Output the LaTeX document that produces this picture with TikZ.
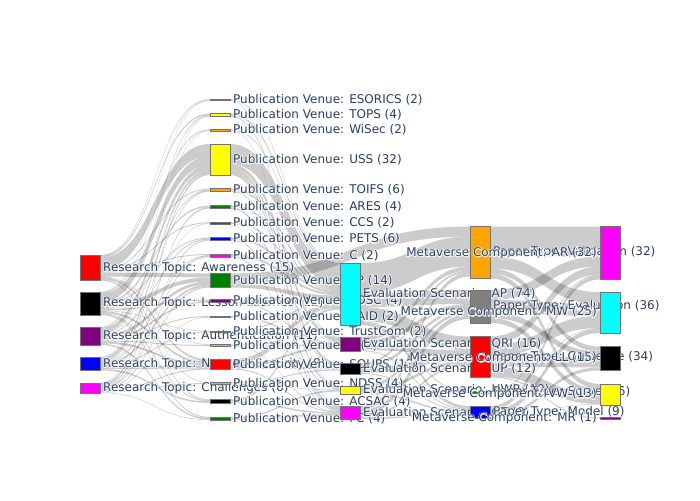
\documentclass[tikz,border=0pt]{standalone}
\usepackage{fontspec}
\setmainfont{DejaVu Sans}
\newfontfamily\halofont[FakeBold=14]{DejaVu Sans}
\usetikzlibrary{calc}
\pgfdeclarelayer{bg}
\pgfsetlayers{bg,main}
\definecolor{txt}{RGB}{42,63,95}
\definecolor{mygreen}{RGB}{0,128,0}
\definecolor{mypurple}{RGB}{128,0,128}
\definecolor{myorange}{RGB}{255,165,0}
\definecolor{mygray}{RGB}{128,128,128}
\definecolor{mycyan}{RGB}{0,255,255}
\definecolor{mymagenta}{RGB}{255,0,255}
\definecolor{myyellow}{RGB}{255,255,0}
\definecolor{myred}{RGB}{255,0,0}
\definecolor{myblue}{RGB}{0,0,255}
\tikzset{
  sk/.style={draw=black!55, line width=0.5pt, inner sep=0pt, outer sep=0pt, minimum width=20pt, anchor=north west},
  lbr/.style={anchor=west, text=txt, inner sep=0pt, font=\fontsize{12}{14}\selectfont},
  lbl/.style={anchor=east, text=txt, inner sep=0pt, font=\fontsize{12}{14}\selectfont},
  halo/.style={text=white, text opacity=0.85, font=\halofont\fontsize{12}{14}\selectfont},
  linkfill/.style={fill=black, fill opacity=0.2}
}
\newcommand\snoder[6]{%
  \node[sk, fill=#5, minimum height=#4pt] (#1) at (#2,#3) {};
  \node[lbr, halo] (#1-h) at ([xshift=3pt]#1.east) {#6};
  \node[lbr] (#1-t) at ([xshift=3pt]#1.east) {#6};
  \expandafter\xdef\csname so@#1\endcsname{0}%
  \expandafter\xdef\csname si@#1\endcsname{0}%
}
\newcommand\snodel[6]{%
  \node[sk, fill=#5, minimum height=#4pt] (#1) at (#2,#3) {};
  \node[lbl, halo] (#1-h) at ([xshift=-3pt]#1.west) {#6};
  \node[lbl] (#1-t) at ([xshift=-3pt]#1.west) {#6};
  \expandafter\xdef\csname so@#1\endcsname{0}%
  \expandafter\xdef\csname si@#1\endcsname{0}%
}
\newcommand\lnk[3]{%
  \pgfmathsetmacro\lso{\csname so@#1\endcsname}%
  \pgfmathsetmacro\lsi{\csname si@#2\endcsname}%
  \fill[linkfill] let \p1=(#1.north east), \p2=(#2.north west), \n1={(\x1+\x2)/2} in
    (\x1,\y1-\lso pt) .. controls (\n1,\y1-\lso pt) and (\n1,\y2-\lsi pt) .. (\x2,\y2-\lsi pt)
    -- (\x2,\y2-\lsi pt-#3pt) .. controls (\n1,\y2-\lsi pt-#3pt) and (\n1,\y1-\lso pt-#3pt) .. (\x1,\y1-\lso pt-#3pt) -- cycle;
  \pgfmathsetmacro\tmpa{\lso+#3}\expandafter\xdef\csname so@#1\endcsname{\tmpa}%
  \pgfmathsetmacro\tmpb{\lsi+#3}\expandafter\xdef\csname si@#2\endcsname{\tmpb}%
}
\newcommand\lnks[2]{\foreach \tg/\w in {#2}{\lnk{#1}{\tg}{\w}}}
\begin{document}
\begin{tikzpicture}[x=1pt,y=-1pt]
\useasboundingbox (0,0) rectangle (700,500);
\begin{pgfonlayer}{bg}
\fill[white] (0,0) rectangle (700,500);
\end{pgfonlayer}
% column 0
\snoder{aw}{80}{255}{25.5}{myred}{Research Topic: Awareness (15)}
\snoder{le}{80}{292}{23}{black}{Research Topic: Lesson Learned (12)}
\snoder{au}{80}{327}{18}{mypurple}{Research Topic: Authentication (11)}
\snoder{nw}{80}{357}{13.5}{myblue}{Research Topic: Network Security (8)}
\snoder{ch}{80}{383}{10}{mymagenta}{Research Topic: Challenges (6)}
% column 1
\snoder{esorics}{210}{99.25}{1.5}{mygray}{Publication Venue: ESORICS (2)}
\snoder{tops}{210}{113.5}{3}{myyellow}{Publication Venue: TOPS (4)}
\snoder{wisec}{210}{129.25}{1.5}{myorange}{Publication Venue: WiSec (2)}
\snoder{uss}{210}{144}{31}{myyellow}{Publication Venue: USS (32)}
\snoder{toifs}{210}{188.5}{3}{myorange}{Publication Venue: TOIFS (6)}
\snoder{ares}{210}{205.5}{3}{mygreen}{Publication Venue: ARES (4)}
\snoder{ccs}{210}{222.25}{1.5}{myred}{Publication Venue: CCS (2)}
\snoder{pets}{210}{237.5}{3}{myblue}{Publication Venue: PETS (6)}
\snoder{cv}{210}{254}{3}{mymagenta}{Publication Venue: C (2)}
\snoder{sp}{210}{273.5}{14}{mygreen}{Publication Venue: SP (14)}
\snoder{tdsc}{210}{299.5}{3}{mypurple}{Publication Venue: TDSC (4)}
\snoder{raid}{210}{316}{1.5}{mygray}{Publication Venue: RAID (2)}
\snoder{trust}{210}{330.75}{1.5}{myblue}{Publication Venue: TrustCom (2)}
\snoder{ev}{210}{344.5}{1.5}{mycyan}{Publication Venue: E (2)}
\snoder{soups}{210}{359.5}{10}{myred}{Publication Venue: SOUPS (12)}
\snoder{ndss}{210}{382.5}{1.5}{mycyan}{Publication Venue: NDSS (4)}
\snoder{acsac}{210}{399.5}{3.5}{black}{Publication Venue: ACSAC (4)}
\snoder{fc}{210}{417}{3}{mygreen}{Publication Venue: FC (4)}
% column 2
\snoder{ap}{340}{263}{62}{mycyan}{Evaluation Scenario: AP (74)}
\snoder{qri}{340}{337}{14}{mypurple}{Evaluation Scenario: QRI (16)}
\snoder{up}{340}{363}{11}{black}{Evaluation Scenario: UP (12)}
\snoder{hwr}{340}{386}{8}{myyellow}{Evaluation Scenario: HWR (10)}
\snoder{ot}{340}{406}{13}{mymagenta}{Evaluation Scenario: OT (8)}
% column 3
\snoder{val}{470}{226.5}{52}{myorange}{Paper Type: Validation (32)}
\snoder{evl}{470}{290}{33}{mygray}{Paper Type: Evaluation (36)}
\snoder{gdl}{470}{336.5}{41}{myred}{Paper Type: Guideline (34)}
\snoder{srv}{470}{391.5}{1.5}{mygreen}{Paper Type: Survey (6)}
\snoder{mdl}{470}{406}{12}{myblue}{Paper Type: Model (9)}
% column 4
\snodel{ar}{600}{226.5}{53}{mymagenta}{Metaverse Component: AR (32)}
\snodel{mw}{600}{292}{41}{mycyan}{Metaverse Component: MW (25)}
\snodel{ll}{600}{346.5}{24}{black}{Metaverse Component: LL (15)}
\snodel{vw}{600}{384}{21}{myyellow}{Metaverse Component: VW (13)}
\snodel{mr}{600}{417.5}{1.5}{mypurple}{Metaverse Component: MR (1)}
% links
\begin{pgfonlayer}{bg}
\lnks{aw}{esorics/1, tops/1.5, uss/12, toifs/1, ccs/1, cv/1, sp/4, ev/0.5, soups/2, ndss/0.5, acsac/1}
\lnks{le}{esorics/0.5, wisec/1, uss/9, ares/1.5, pets/1, sp/4, tdsc/1.5, trust/0.5, soups/2, acsac/1, fc/1}
\lnks{au}{tops/1, uss/5, toifs/1, pets/1, sp/3, tdsc/1.5, raid/1, ev/1, soups/2, fc/1.5}
\lnks{nw}{wisec/0.5, uss/3, toifs/1, ccs/0.5, cv/1, sp/2, trust/1, soups/3, acsac/1.5}
\lnks{ch}{tops/0.5, uss/2, ares/1.5, pets/1, cv/1, sp/1, raid/0.5, soups/1, ndss/1, fc/0.5}
\lnks{esorics}{ap/1, ot/0.5}
\lnks{tops}{ap/2, qri/1}
\lnks{wisec}{ap/1, hwr/0.5}
\lnks{uss}{ap/20, qri/4, up/3, hwr/2, ot/2}
\lnks{toifs}{ap/2, up/1}
\lnks{ares}{ap/1.5, ot/1.5}
\lnks{ccs}{ap/1, qri/0.5}
\lnks{pets}{ap/2, hwr/1}
\lnks{cv}{ap/2, ot/1}
\lnks{sp}{val/10, ap/4}
\lnks{tdsc}{ap/2, qri/1}
\lnks{raid}{qri/1.5}
\lnks{trust}{ap/1, up/0.5}
\lnks{ev}{qri/1, ot/0.5}
\lnks{soups}{ap/5, qri/2, up/2, ot/1}
\lnks{ndss}{up/1, hwr/0.5}
\lnks{acsac}{ap/2, ot/1.5}
\lnks{fc}{hwr/1.5, ot/1.5}
\lnks{ap}{val/30, evl/14, gdl/14, srv/1, mdl/3}
\lnks{qri}{val/4, evl/4, gdl/5, mdl/1}
\lnks{up}{val/2, evl/3, gdl/5, mdl/1}
\lnks{hwr}{evl/3, gdl/3, srv/0.5, mdl/1.5}
\lnks{ot}{val/4, evl/5, gdl/2, mdl/2}
\lnks{val}{ar/30, mw/12, ll/5, vw/5}
\lnks{evl}{ar/10, mw/12, ll/6, vw/5}
\lnks{gdl}{ar/8, mw/12, ll/10, vw/10, mr/1}
\lnks{srv}{ar/1, mw/0.5}
\lnks{mdl}{ar/4, mw/4.5, ll/3, vw/0.5}
\end{pgfonlayer}
\end{tikzpicture}
\end{document}
